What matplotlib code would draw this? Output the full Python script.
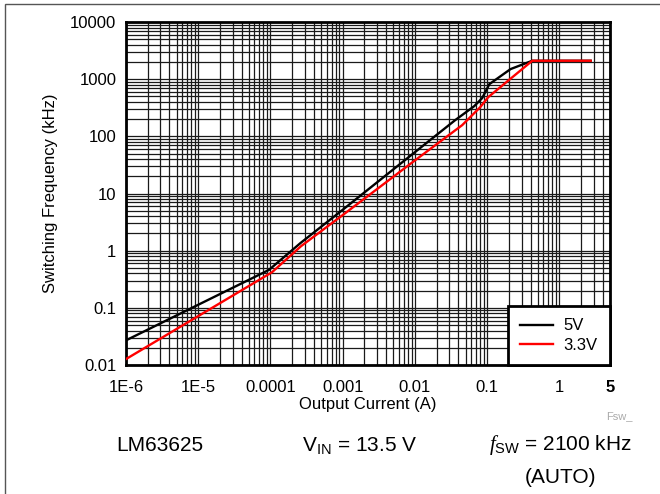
import numpy as np
import matplotlib.pyplot as plt
from matplotlib.ticker import FixedLocator, FixedFormatter, LogLocator, NullFormatter
from matplotlib.patches import Rectangle

plt.rcParams['font.family'] = ['Liberation Sans', 'DejaVu Sans']
plt.rcParams['mathtext.fontset'] = 'custom'
plt.rcParams['mathtext.rm'] = 'Liberation Sans'
plt.rcParams['mathtext.it'] = 'Liberation Serif:italic'

i_5v = [1e-6, 9.5e-5, 2.6e-4, 1e-3, 1e-2, 0.036, 0.066, 0.085, 0.107, 0.21, 0.42, 2.7]
f_5v = [0.027, 0.46, 1.36, 5.2, 53, 192, 337, 466, 818, 1500, 2100, 2100]
i_33v = [1e-6, 1.05e-4, 2.65e-4, 1e-3, 1e-2, 0.045, 0.08, 0.103, 0.42, 2.7]
f_33v = [0.0127, 0.42, 1.2, 4.2, 38, 157, 324, 484, 2100, 2100]

xticks = [1e-6, 1e-5, 1e-4, 1e-3, 1e-2, 0.1, 1, 5]
xlabels = ['1E-6', '1E-5', '0.0001', '0.001', '0.01', '0.1', '1', '5']
yticks = [0.01, 0.1, 1, 10, 100, 1000, 10000]
ylabels = ['0.01', '0.1', '1', '10', '100', '1000', '10000']

fig = plt.figure(figsize=(6.6, 4.94), dpi=100)
ax = fig.add_axes([126/660, 1-365/494, 484/660, 343/494])

ax.plot(i_5v, f_5v, color='black', lw=1.7, label='5V', zorder=3)
ax.plot(i_33v, f_33v, color='red', lw=1.7, label='3.3V', zorder=3)

ax.set_xscale('log')
ax.set_yscale('log')
ax.set_xlim(1e-6, 5)
ax.set_ylim(0.01, 10000)

ax.xaxis.set_major_locator(FixedLocator(xticks))
ax.xaxis.set_major_formatter(FixedFormatter(xlabels))
ax.yaxis.set_major_locator(FixedLocator(yticks))
ax.yaxis.set_major_formatter(FixedFormatter(ylabels))
ax.xaxis.set_minor_locator(LogLocator(base=10, subs=np.arange(2, 10), numticks=20))
ax.yaxis.set_minor_locator(LogLocator(base=10, subs=np.arange(2, 10), numticks=20))
ax.xaxis.set_minor_formatter(NullFormatter())
ax.yaxis.set_minor_formatter(NullFormatter())
ax.tick_params(which='both', length=0, labelsize=12)
ax.tick_params(axis='x', pad=11)
ax.tick_params(axis='y', pad=7)
ax.get_xticklabels()[-1].set_fontweight('bold')

ax.grid(which='both', color='#1a1a1a', lw=0.9)
ax.set_axisbelow(True)
for s in ax.spines.values():
    s.set_linewidth(2)

ax.set_xlabel('Output Current (A)', fontsize=12, labelpad=1)
ax.set_ylabel('Switching Frequency (kHz)', fontsize=12, labelpad=9)

leg = ax.legend(loc='lower right', fontsize=12, frameon=True, fancybox=False,
                framealpha=1, edgecolor='black', borderaxespad=0,
                handlelength=2.0, handletextpad=0.6, labelspacing=0.25,
                borderpad=0.75)
leg.get_frame().set_linewidth(2)

fig.text(606/660, 1-416/494, 'Fsw_', fontsize=8, color='#aaaaaa', va='center')
fig.text(160/660, 1-445/494, 'LM63625', fontsize=15, ha='center', va='center')
fig.text(360/660, 1-445/494, r'$\mathrm{V}_{\mathrm{IN}}$ = 13.5 V', fontsize=15,
         ha='center', va='center')
fig.text(560/660, 1-445/494, r'$f_{\mathrm{SW}}$ = 2100 kHz', fontsize=15,
         ha='center', va='center')
fig.text(560/660, 1-477/494, '(AUTO)', fontsize=15, ha='center', va='center')

fig.patches.append(Rectangle((4.5/660, -0.1), 1.2, 1.1-4.5/494, transform=fig.transFigure,
                             fill=False, edgecolor='#555555', lw=1))

fig.savefig('out.png', dpi=100)
